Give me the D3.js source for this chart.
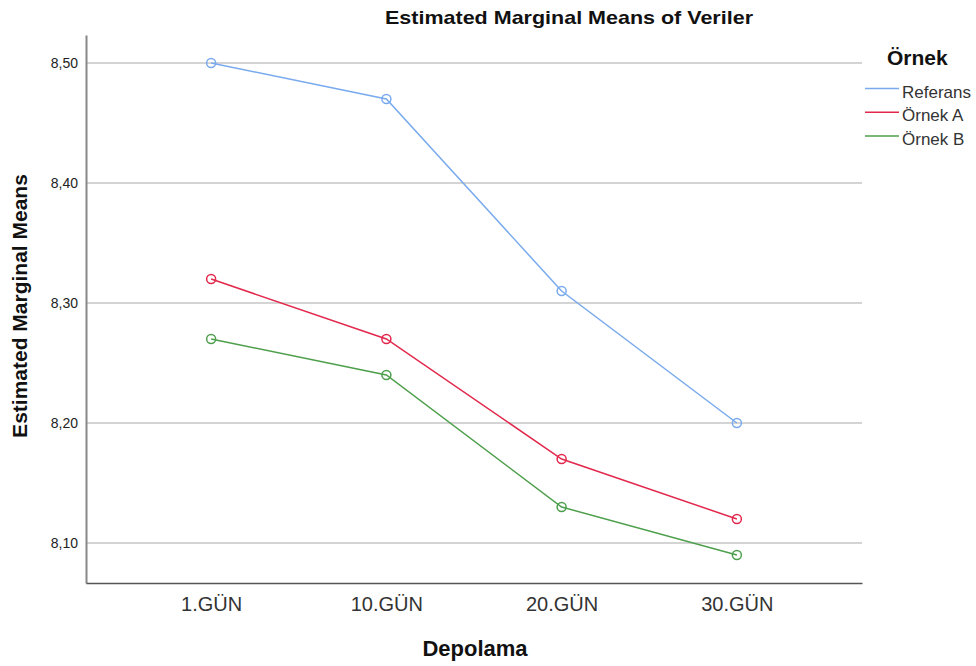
<!DOCTYPE html>
<html><head><meta charset="utf-8">
<script src="https://cdn.jsdelivr.net/npm/d3@7"></script>
<style>body{margin:0;background:#fff;} text{font-family:Arial,"Liberation Sans",sans-serif;}</style>
</head><body>
<svg id="c" width="976" height="666"></svg>
<script>
const categories = ["1.GÜN","10.GÜN","20.GÜN","30.GÜN"];
const seriesNames = ["Referans","Örnek A","Örnek B"];
const referans = [8.50, 8.47, 8.31, 8.20];
const ornekA = [8.32, 8.27, 8.17, 8.12];
const ornekB = [8.27, 8.24, 8.13, 8.09];
const yTicks = [8.10, 8.20, 8.30, 8.40, 8.50];
const colors = ["#79aaee","#e2284c","#4e9f4c"];

const svg = d3.select("#c");
const L = 86, R = 862, T = 35, B = 583;
const x = d3.scalePoint().domain(categories).range([L, R]).padding(0.714);
const y = d3.scaleLinear().domain([8.10 - 40/1200, 8.50 + 28/1200]).range([B, T]);

// gridlines
svg.append("g").selectAll("line").data(yTicks).join("line")
  .attr("x1", L).attr("x2", R).attr("y1", d => y(d)).attr("y2", d => y(d))
  .attr("stroke", "#d4d4d4").attr("stroke-width", 2);

// axes
const yAxis = d3.axisLeft(y).tickValues(yTicks).tickSize(0).tickPadding(8)
  .tickFormat(d => d3.format(".2f")(d).replace(".", ","));
const gy = svg.append("g").attr("transform", `translate(${L},0)`).call(yAxis);
gy.select(".domain").attr("stroke", "#888").attr("stroke-width", 2);
gy.selectAll("text").attr("font-size", 14).attr("fill", "#222");

const xAxis = d3.axisBottom(x).tickSize(0).tickPadding(14);
const gx = svg.append("g").attr("transform", `translate(0,${B})`).call(xAxis);
gx.select(".domain").attr("stroke", "#555").attr("stroke-width", 1.5);
gx.selectAll("text").attr("font-size", 20).attr("fill", "#333");

// lines
const data = [referans, ornekA, ornekB];
const line = d3.line().x((d, i) => x(categories[i])).y(d => y(d));
data.forEach((vals, s) => {
  svg.append("path").datum(vals).attr("d", line).attr("fill", "none")
    .attr("stroke", colors[s]).attr("stroke-width", 1.5);
  svg.append("g").selectAll("circle").data(vals).join("circle")
    .attr("cx", (d, i) => x(categories[i])).attr("cy", d => y(d)).attr("r", 4.5)
    .attr("fill", "none").attr("stroke", colors[s]).attr("stroke-width", 1.5);
});

// titles
svg.append("text").attr("x", 569).attr("y", 24).attr("text-anchor", "middle")
  .attr("font-size", 19).attr("font-weight", "bold").attr("fill", "#111")
  .attr("textLength", 368).attr("lengthAdjust", "spacingAndGlyphs")
  .text("Estimated Marginal Means of Veriler");
svg.append("text").attr("transform", "translate(27,306) rotate(-90)").attr("text-anchor", "middle")
  .attr("font-size", 21).attr("font-weight", "bold").attr("fill", "#111")
  .text("Estimated Marginal Means");
svg.append("text").attr("x", 475).attr("y", 656).attr("text-anchor", "middle")
  .attr("font-size", 22).attr("font-weight", "bold").attr("fill", "#111")
  .text("Depolama");

// legend
svg.append("text").attr("x", 887).attr("y", 65).attr("font-size", 21)
  .attr("font-weight", "bold").attr("fill", "#111").text("Örnek");
seriesNames.forEach((n, i) => {
  const yy = 88.5 + i * 23.7;
  svg.append("line").attr("x1", 865).attr("x2", 899).attr("y1", yy).attr("y2", yy)
    .attr("stroke", colors[i]).attr("stroke-width", 1.5);
  svg.append("text").attr("x", 902).attr("y", yy + 9).attr("font-size", 17)
    .attr("fill", "#333").text(n);
});
</script>
</body></html>
